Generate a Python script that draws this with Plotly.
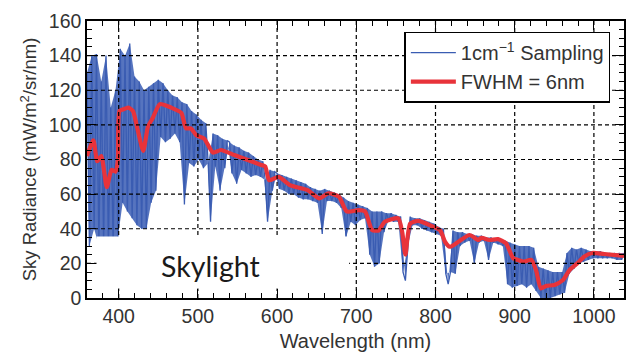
import plotly.graph_objects as go

# ---- data ----
# high-resolution (1 cm^-1 sampling) spectrum, sampled every 3 nm (values read off the band)
wl_hr = list(range(360, 1039, 3))
rad_hr = [
    130, 30, 140, 40, 141, 30, 125, 32, 140, 30,
    110, 30, 120, 35, 144, 55, 140, 50, 147, 46,
    128, 42, 125, 40, 120, 40, 122, 55, 124, 62,
    126, 93, 124, 90, 120, 92, 117, 95, 116, 90,
    113, 54, 112, 78, 108, 76, 106, 80, 103, 75,
    101, 78, 44, 95, 76, 94, 62, 92, 75, 91,
    90, 72, 88, 66, 87, 74, 85, 72, 84, 70,
    82, 71, 80, 70, 79, 68, 44, 74, 62, 73,
    72, 63, 71, 62, 70, 60, 69, 60, 68, 58,
    67, 57, 66, 57, 64, 56, 63, 55, 62, 37,
    63, 56, 62, 56, 61, 55, 60, 52, 58, 35,
    56, 44, 55, 42, 54, 45, 53, 46, 52, 25,
    50, 18, 50, 20, 50, 38, 49, 45, 49, 44,
    48, 44, 47, 15, 10, 30, 47, 42, 46, 42,
    46, 40, 45, 39, 44, 38, 43, 37, 41, 36,
    40, 14, 8, 15, 39, 14, 38, 30, 38, 32,
    37, 33, 37, 20, 36, 32, 36, 33, 35, 22,
    35, 32, 34, 31, 34, 30, 33, 8, 32, 6,
    31, 7, 30, 8, 30, 6, 30, 8, 29, 4,
    18, 0, 17, 0, 16, 0, 15, 1, 15, 2,
    15, 3, 26, 14, 29, 17, 28, 20, 29, 21,
    28, 22, 27, 23, 27, 23, 27, 23, 26, 23,
    26, 23, 26, 22, 26, 22, 26,
]

# smoothed spectrum, FWHM = 6 nm
wl_fw = [360, 368, 373, 378, 385, 391, 396, 399, 401, 406, 412, 418, 424, 431, 437,
         443, 452, 466, 479, 485, 491, 498, 508, 519, 529, 546, 563, 579, 585, 590,
         602, 617, 638, 653, 665, 678, 688, 703, 711, 720, 728, 736, 753, 758, 762,
         768, 778, 795, 806, 812, 818, 829, 843, 854, 858, 868, 879, 889, 898, 904,
         912, 921, 927, 933, 940, 950, 961, 969, 979, 988, 998, 1013, 1038]
rad_fw = [82, 91, 79, 82, 64, 74, 73, 80, 108, 109, 110, 108, 97, 85, 99,
          104, 112, 110, 107, 98, 98, 94, 92, 84, 85.5, 82.6, 79.7, 77, 76, 68,
          70, 65, 62.4, 57.6, 60.5, 58.5, 50, 50.8, 50, 39.3, 39, 44, 46, 38, 25,
          43, 44.5, 41.6, 39, 32.5, 29.6, 32.5, 36.4, 33.5, 34.8, 33.5, 34, 31.6, 23, 22,
          21, 22, 16, 5.6, 7, 7.5, 10.4, 16, 20, 24, 26, 25.4, 24.3]

x_ticks = [400, 500, 600, 700, 800, 900, 1000]
y_ticks = [0, 20, 40, 60, 80, 100, 120, 140, 160]
x_grid = [400, 500, 600, 700, 800, 900, 1000]
y_grid = [20, 40, 60, 80, 100, 120, 140]

FONT = "Liberation Sans, Arial, sans-serif"
TXT = "#333333"
BLUE = "#3a5cb2"
BLUE_FILL = "rgba(72,104,186,0.92)"
RED = "#e8333a"

fig = go.Figure()
# dense band: the alternating samples of the same spectrum, filled between each other
fig.add_trace(go.Scatter(x=wl_hr[1::2], y=rad_hr[1::2], mode="lines",
                         line=dict(color=BLUE_FILL, width=0), showlegend=False, hoverinfo="skip"))
fig.add_trace(go.Scatter(x=wl_hr[0::2], y=rad_hr[0::2], mode="lines",
                         line=dict(color=BLUE_FILL, width=0), fill="tonexty", fillcolor=BLUE_FILL,
                         showlegend=False, hoverinfo="skip"))
# the sampled spectrum itself
fig.add_trace(go.Scatter(x=wl_hr, y=rad_hr, mode="lines",
                         line=dict(color=BLUE, width=1.3), showlegend=False))
# legend entry with the thin blue line
fig.add_trace(go.Scatter(x=[None], y=[None], mode="lines",
                         line=dict(color=BLUE, width=1.2),
                         name="1cm<sup>\u22121</sup> Sampling"))
fig.add_trace(go.Scatter(x=wl_fw, y=rad_fw, mode="lines",
                         line=dict(color=RED, width=4.2, shape="spline", smoothing=0.6),
                         name="FWHM = 6nm"))

shapes = []
for xv in x_grid:
    shapes.append(dict(type="line", xref="x", yref="y", x0=xv, x1=xv, y0=0, y1=160,
                       line=dict(color="black", width=1.2, dash="4px,3px"), layer="above"))
for yv in y_grid:
    shapes.append(dict(type="line", xref="x", yref="y", x0=360, x1=1038, y0=yv, y1=yv,
                       line=dict(color="black", width=1.2, dash="4px,3px"), layer="above"))
# white label box
shapes.append(dict(type="rect", xref="x", yref="y", x0=372, x1=691, y0=5.5, y1=35.5,
                   fillcolor="white", line=dict(width=0), layer="above"))

axis_common = dict(
    showline=True, linecolor="black", linewidth=1.5, mirror="ticks",
    ticks="inside", ticklen=9, tickwidth=1.2, tickcolor="black",
    showgrid=False, zeroline=False,
    tickfont=dict(family=FONT, size=19.5, color=TXT),
)

fig.update_layout(
    width=629, height=354,
    margin=dict(l=87, r=3, t=21, b=56),
    paper_bgcolor="white", plot_bgcolor="white",
    shapes=shapes,
    showlegend=True,
    legend=dict(x=0.591, y=0.962, xanchor="left", yanchor="top",
                traceorder="normal",
                bgcolor="white", bordercolor="black", borderwidth=1.5,
                itemwidth=45,
                font=dict(family=FONT, size=20, color=TXT)),
    xaxis=dict(range=[360, 1038], tickvals=x_ticks,
               minor=dict(dtick=20, ticks="inside", ticklen=5, tickcolor="black", tickwidth=1),
               title=dict(text="Wavelength (nm)", font=dict(family=FONT, size=20, color=TXT), standoff=8),
               **axis_common),
    yaxis=dict(range=[0, 160], tickvals=y_ticks,
               minor=dict(dtick=5, ticks="inside", ticklen=5, tickcolor="black", tickwidth=1),
               title=dict(text="Sky Radiance (mW/m<sup>2</sup>/sr/nm)", font=dict(family=FONT, size=18.5, color=TXT), standoff=7),
               **axis_common),
    annotations=[dict(x=516, y=18.5, xref="x", yref="y", text="Skylight", showarrow=False,
                      font=dict(family="Lato, Carlito, sans-serif", size=28.5, color="#1a1a1a"))],
)

fig.write_html("out.html")
